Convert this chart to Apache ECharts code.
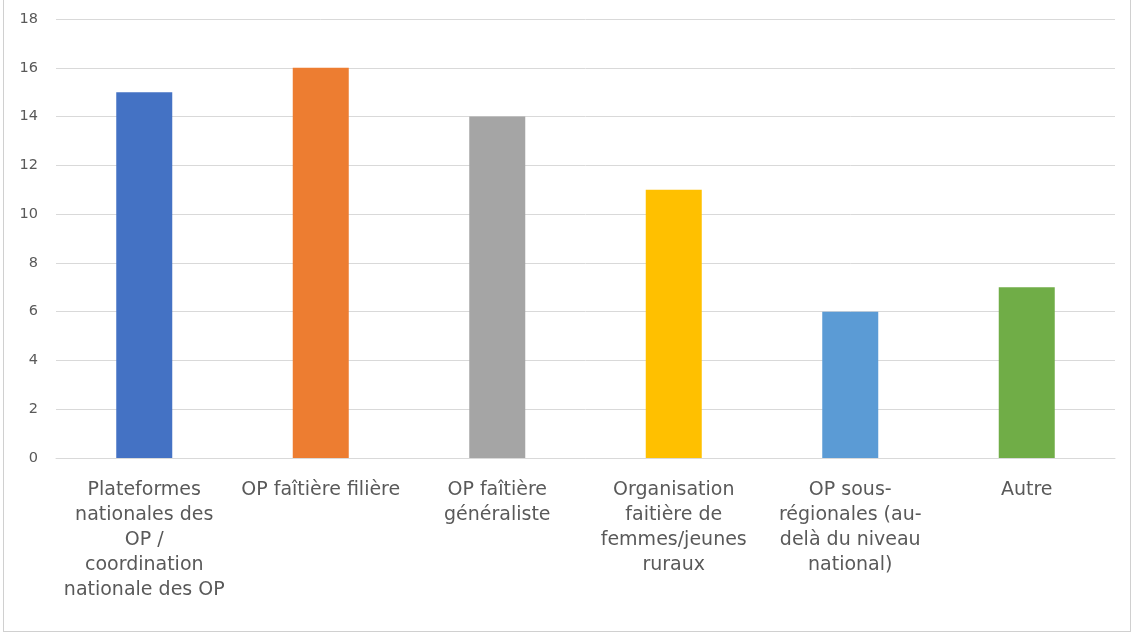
<!DOCTYPE html>
<html>
<head>
<meta charset="utf-8">
<script src="https://cdn.jsdelivr.net/npm/echarts@6/dist/echarts.min.js"></script>
<style>
html,body{margin:0;padding:0;background:#fff;}
#frame{position:absolute;left:3px;top:-2px;width:1128px;height:634px;border:1px solid #d0d0d0;box-sizing:border-box;}
#chart{position:absolute;left:0;top:0;width:1134px;height:636px;}
</style>
</head>
<body>
<div id="frame"></div>
<div id="chart"></div>
<script>
const categories = [
  "Plateformes\nnationales des\nOP /\ncoordination\nnationale des OP",
  "OP faîtière filière",
  "OP faîtière\ngénéraliste",
  "Organisation\nfaitière de\nfemmes/jeunes\nruraux",
  "OP sous-\nrégionales (au-\ndelà du niveau\nnational)",
  "Autre"
];
const values = [15, 16, 14, 11, 6, 7];
const barColors = ["#4472C4", "#ED7D31", "#A5A5A5", "#FFC000", "#5B9BD5", "#70AD47"];

const chart = echarts.init(document.getElementById('chart'));
chart.setOption({
  animation: false,
  grid: {left: 56, right: 19, top: 19, bottom: 178, containLabel: false},
  xAxis: {
    type: 'category',
    data: categories,
    axisTick: {show: false},
    axisLine: {lineStyle: {color: '#d9d9d9', width: 1}},
    axisLabel: {
      interval: 0,
      color: '#595959',
      fontFamily: 'DejaVu Sans',
      fontSize: 19,
      lineHeight: 25,
      margin: 20
    }
  },
  yAxis: {
    type: 'value',
    min: 0, max: 18, interval: 2,
    axisLine: {show: false},
    axisTick: {show: false},
    splitLine: {lineStyle: {color: '#d9d9d9', width: 1}},
    axisLabel: {color: '#595959', fontFamily: 'DejaVu Sans', fontSize: 14.5, margin: 18}
  },
  series: [{
    type: 'bar',
    data: values.map((v, i) => ({value: v, itemStyle: {color: barColors[i]}})),
    barWidth: 56
  }]
});
</script>
</body>
</html>
